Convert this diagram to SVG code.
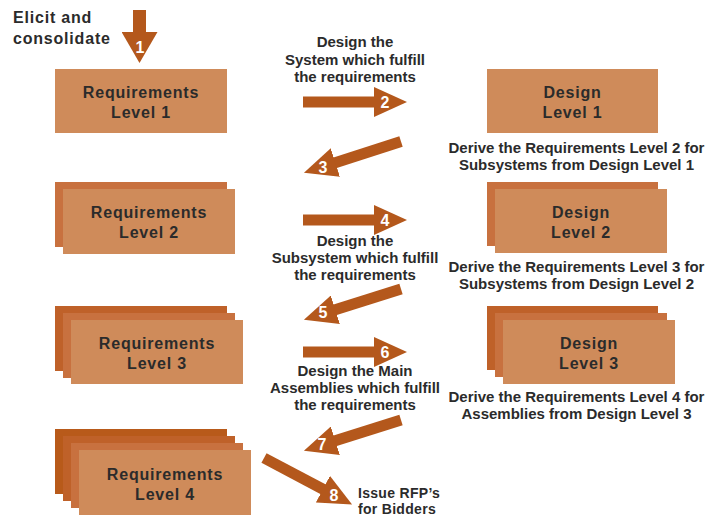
<svg xmlns="http://www.w3.org/2000/svg" width="720" height="519" viewBox="0 0 720 519">
<style>
.f{fill:#CF8B5A}
.b1{fill:#C8713F}
.b2{fill:#BF6129}
.b3{fill:#B85A1A}
text{font-family:"Liberation Sans",Arial,sans-serif;font-weight:700;fill:#2B2B2B}
.bt{font-size:16px;text-anchor:middle;letter-spacing:0.8px}
.lb{font-size:15px;text-anchor:middle}
.lt{font-size:16px;letter-spacing:0.8px}
.rfp{font-size:14px;letter-spacing:0.3px}
.num{font-size:16px;fill:#FFFFFF;text-anchor:middle}
.arr{stroke:#B4581C;stroke-width:11;fill:none;marker-end:url(#head)}
</style>
<defs>
<marker id="head" viewBox="0 0 33 30" refX="1" refY="15" markerWidth="33" markerHeight="30" markerUnits="userSpaceOnUse" orient="auto">
<path d="M0,0 L33,15 L0,30 Z" fill="#B4581C"/>
</marker>
<marker id="head1" viewBox="0 0 31 36" refX="1" refY="18" markerWidth="31" markerHeight="36" markerUnits="userSpaceOnUse" orient="auto">
<path d="M0,0 L31,18 L0,36 Z" fill="#B4581C"/>
</marker>
</defs>

<g id="connectors">
<line x1="139.5" y1="10" x2="139.5" y2="33" stroke="#B4581C" stroke-width="13" marker-end="url(#head1)"/>
<line class="arr" x1="303" y1="102" x2="375" y2="102"/>
<line class="arr" x1="401" y1="141.5" x2="334.4" y2="162.9"/>
<line class="arr" x1="303" y1="220" x2="375" y2="220"/>
<line class="arr" x1="401" y1="289" x2="334.4" y2="310.1"/>
<line class="arr" x1="303" y1="352" x2="375" y2="352"/>
<line class="arr" x1="401" y1="420" x2="334.4" y2="441.1"/>
<line class="arr" x1="264" y1="458" x2="323.8" y2="489.6"/>
<text class="num" x="140" y="53">1</text>
<text class="num" x="385" y="108">2</text>
<text class="num" x="323" y="173">3</text>
<text class="num" x="385" y="226">4</text>
<text class="num" x="323" y="318">5</text>
<text class="num" x="385" y="358">6</text>
<text class="num" x="322" y="450">7</text>
<text class="num" x="334" y="501">8</text>
</g>

<g id="elicit">
<text class="lt" x="13" y="23">Elicit and</text>
<text class="lt" x="13" y="44">consolidate</text>
</g>

<g id="req1">
<rect class="f" x="55" y="69" width="172" height="64"/>
<text class="bt" x="141" y="98">Requirements</text>
<text class="bt" x="141" y="118">Level 1</text>
</g>

<g id="req2">
<rect class="b1" x="55" y="182" width="172" height="65"/>
<rect class="f" x="63" y="189" width="172" height="65"/>
<text class="bt" x="149" y="218">Requirements</text>
<text class="bt" x="149" y="238">Level 2</text>
</g>

<g id="req3">
<rect class="b2" x="55" y="306" width="172" height="65"/>
<rect class="b1" x="63" y="313" width="172" height="65"/>
<rect class="f" x="71" y="320" width="172" height="64"/>
<text class="bt" x="157" y="349">Requirements</text>
<text class="bt" x="157" y="369">Level 3</text>
</g>

<g id="req4">
<rect class="b3" x="55" y="429" width="172" height="65"/>
<rect class="b2" x="63" y="436" width="172" height="65"/>
<rect class="b1" x="71" y="443" width="172" height="65"/>
<rect class="f" x="79" y="450" width="172" height="65"/>
<text class="bt" x="165" y="479.5">Requirements</text>
<text class="bt" x="165" y="499.5">Level 4</text>
</g>

<g id="des1">
<rect class="f" x="487" y="69" width="171" height="64"/>
<text class="bt" x="572.5" y="98">Design</text>
<text class="bt" x="572.5" y="118">Level 1</text>
</g>

<g id="des2">
<rect class="b1" x="487" y="182" width="171" height="64"/>
<rect class="f" x="495" y="189" width="172" height="64"/>
<text class="bt" x="581" y="218">Design</text>
<text class="bt" x="581" y="238">Level 2</text>
</g>

<g id="des3">
<rect class="b2" x="487" y="306" width="171" height="64"/>
<rect class="b1" x="495" y="313" width="172" height="64"/>
<rect class="f" x="503" y="320" width="172" height="64"/>
<text class="bt" x="589" y="349">Design</text>
<text class="bt" x="589" y="369">Level 3</text>
</g>

<g id="label-design-system">
<text class="lb" x="355" y="47">Design the</text>
<text class="lb" x="355" y="65">System which fulfill</text>
<text class="lb" x="355" y="82">the requirements</text>
</g>

<g id="label-design-subsystem">
<text class="lb" x="355" y="246">Design the</text>
<text class="lb" x="355" y="263">Subsystem which fulfill</text>
<text class="lb" x="355" y="280">the requirements</text>
</g>

<g id="label-design-assemblies">
<text class="lb" x="355" y="376">Design the Main</text>
<text class="lb" x="355" y="393">Assemblies which fulfill</text>
<text class="lb" x="355" y="410">the requirements</text>
</g>

<g id="label-derive-2">
<text class="lb" x="576.5" y="152.5">Derive the Requirements Level 2 for</text>
<text class="lb" x="576.5" y="170">Subsystems from Design Level 1</text>
</g>

<g id="label-derive-3">
<text class="lb" x="576.5" y="271.5">Derive the Requirements Level 3 for</text>
<text class="lb" x="576.5" y="288.5">Subsystems from Design Level 2</text>
</g>

<g id="label-derive-4">
<text class="lb" x="576.5" y="402">Derive the Requirements Level 4 for</text>
<text class="lb" x="576.5" y="419">Assemblies from Design Level 3</text>
</g>

<g id="rfp">
<text class="rfp" x="358" y="498">Issue RFP’s</text>
<text class="rfp" x="358" y="514">for Bidders</text>
</g>
</svg>
